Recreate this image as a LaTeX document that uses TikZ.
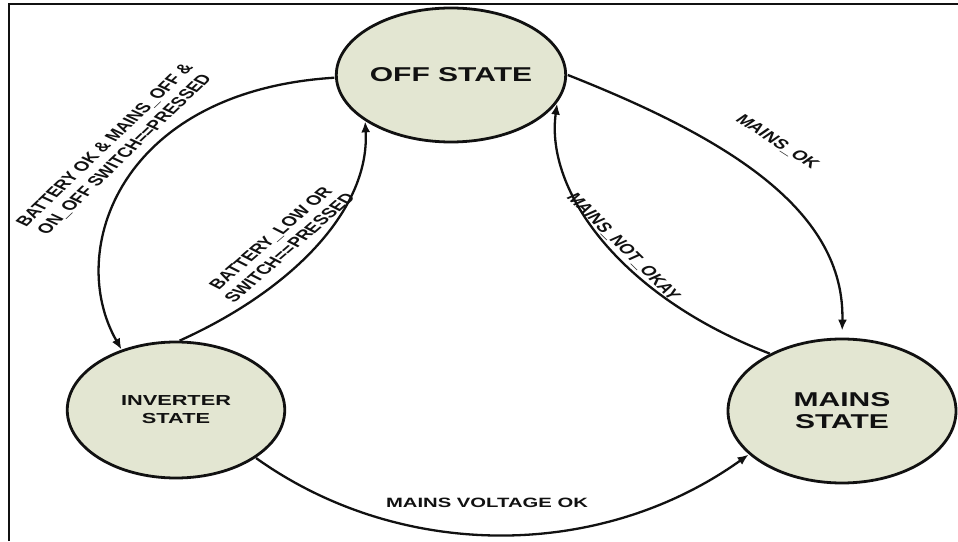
\documentclass[tikz,border=0pt]{standalone}
\usepackage{fontspec}
\setmainfont{Liberation Sans}
\usetikzlibrary{arrows.meta, shapes.geometric}
\definecolor{statefill}{RGB}{227,230,210}
\definecolor{inkcol}{RGB}{17,17,17}

\begin{document}
\begin{tikzpicture}[x=1pt, y=1pt,
    state/.style={draw=inkcol, ellipse, line width=2.8pt, fill=statefill, text=inkcol, align=center, inner sep=0pt, xscale=1.5},
    lbl/.style={text=inkcol, align=center, inner sep=1pt, xscale=1.5, font=\fontsize{13.5}{16}\selectfont\bfseries},
    trans/.style={draw=inkcol, line width=2.3pt, -{Latex[length=11pt, width=9pt]}}]
    \useasboundingbox (0,0) rectangle (958,541);
    % Frame
    \draw[inkcol, line width=2.8pt] (9,0) |- (958,537);
    % States
    \node[state, minimum width=144pt, minimum height=134pt, font=\fontsize{20}{22}\selectfont\bfseries] (off) at (451,466) {OFF STATE};
    \node[state, minimum width=145pt, minimum height=136pt, font=\fontsize{14.5}{18}\selectfont\bfseries] (inv) at (176,131) {INVERTER\\STATE};
    \node[state, minimum width=152pt, minimum height=144pt, font=\fontsize{20}{22}\selectfont\bfseries] (mains) at (842,130) {MAINS\\STATE};

    % Transitions
    \draw[trans] (off.182) .. controls (120,450) and (65,290) .. (inv.121);
    \draw[trans] (inv.88) .. controls (290,250) and (370,330) .. (off.219);
    \draw[trans, shorten >=7pt] (off.east) .. controls (730,402) and (845,330) .. (mains.north);
    \draw[trans] (mains.130) .. controls (620,245) and (545,350) .. (off.338);
    \draw[trans] (inv.318) .. controls (400,-20) and (600,-20) .. (mains.215);

    % Labels
    \node[lbl, rotate=55] (lbatt) at (115,391) {BATTERY OK \& MAINS\_OFF \&\\ON\_OFF SWITCH==PRESSED};
    \node[lbl, rotate=52.5] (llow) at (280,298) {BATTERY\_LOW OR\\SWITCH==PRESSED};
    \node[lbl, rotate=-44] (lok) at (777,399) {MAINS\_OK};
    \node[lbl, rotate=-56] (lnot) at (623,294) {MAINS\_NOT\_OKAY};
    \node[lbl] (lvolt) at (487,38) {MAINS VOLTAGE OK};
\end{tikzpicture}
\end{document}
